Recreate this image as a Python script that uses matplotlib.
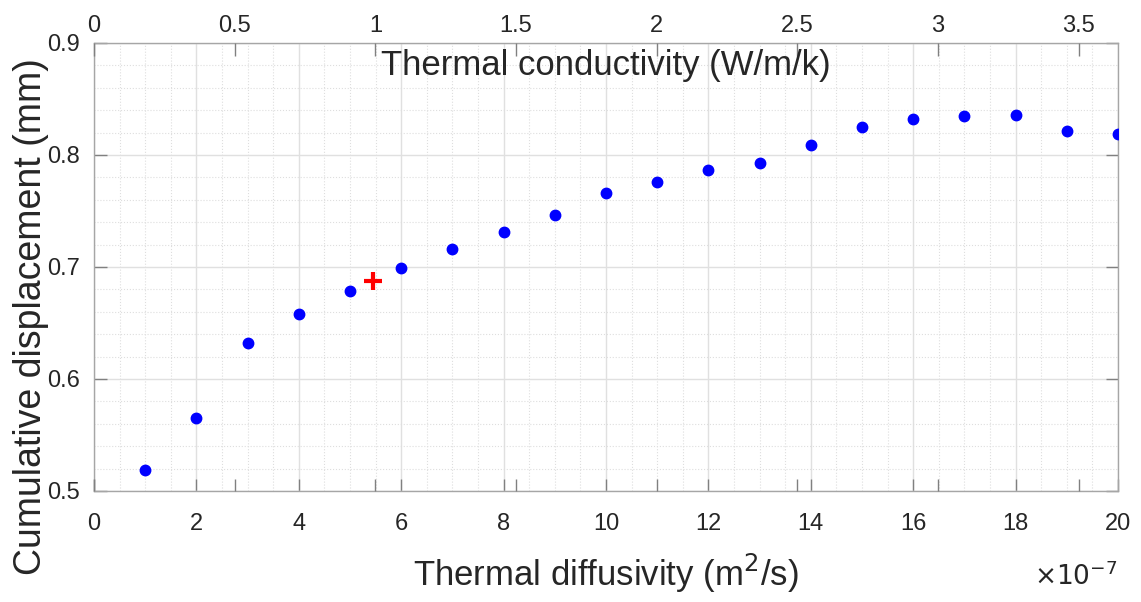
import matplotlib
matplotlib.use("Agg")
import matplotlib.pyplot as plt
from matplotlib.ticker import MultipleLocator
import numpy as np

# diffusivity in units of 1e-7 m^2/s
diffusivity = [1, 2, 3, 4, 5, 6, 7, 8, 9, 10, 11, 12, 13, 14, 15, 16, 17, 18, 19, 20]
displacement = [0.519, 0.565, 0.632, 0.658, 0.679, 0.699, 0.716, 0.731, 0.746, 0.766,
                0.776, 0.787, 0.793, 0.809, 0.825, 0.832, 0.835, 0.836, 0.821, 0.819]
ref_diffusivity = [5.45]
ref_displacement = [0.6875]

bottom_ticks = [0, 2, 4, 6, 8, 10, 12, 14, 16, 18, 20]
top_ticks = [0, 0.5, 1, 1.5, 2, 2.5, 3, 3.5]
top_max = 3.64

plt.rcParams['font.family'] = ['Liberation Sans', 'DejaVu Sans']

fig = plt.figure(figsize=(11.41, 6.02), dpi=100)
ax = fig.add_axes([0.0824, 0.1844, 0.8974, 0.7442])

ax.plot(diffusivity, displacement, 'o', color='#0000ff', markersize=7.5, zorder=3)
ax.plot(ref_diffusivity, ref_displacement, '+', color='#ff0000', markersize=13, mew=3, zorder=3)

ax.set_xlim(0, 20)
ax.set_ylim(0.5, 0.9)
ax.set_xticks(bottom_ticks)
ax.set_yticks([0.5, 0.6, 0.7, 0.8, 0.9])
ax.xaxis.set_minor_locator(MultipleLocator(0.5))
ax.yaxis.set_minor_locator(MultipleLocator(0.02))
ax.grid(True, which='major', color='#e0e0e0', linewidth=1.0)
ax.grid(True, which='minor', color='#dedede', linestyle=':', linewidth=0.8)
ax.set_axisbelow(True)

ax.tick_params(which='major', direction='in', length=9, width=1.0, color='#808080',
               top=True, right=True, labelsize=17, labelcolor='#262626')
ax.tick_params(axis='x', pad=16)
ax.tick_params(axis='y', pad=10)
ax.tick_params(which='minor', length=0)

for s in ax.spines.values():
    s.set_color('#a6a6a6')
    s.set_linewidth(1.0)

ax.set_xlabel('Thermal diffusivity (m$^2$/s)', fontsize=25, color='#262626', labelpad=12)
ax.set_ylabel('Cumulative displacement (mm)', fontsize=27, color='#262626')
ax.yaxis.set_label_coords(-0.044, 0.39)
ax.text(1.0, -0.19, r'$\times10^{-7}$', transform=ax.transAxes, fontsize=19,
        color='#262626', ha='right', va='center')

ax2 = ax.twiny()
ax2.set_xlim(0, top_max)
ax2.set_xticks(top_ticks)
ax2.set_xticklabels([f'{t:g}' for t in top_ticks])
ax2.tick_params(which='major', direction='in', length=9, width=1.0, color='#808080',
                top=True, bottom=True, labelsize=17, labelcolor='#262626', pad=4)
for s in ax2.spines.values():
    s.set_visible(False)
ax2.text(0.5, 0.95, 'Thermal conductivity (W/m/k)', transform=ax2.transAxes,
         fontsize=25, color='#262626', ha='center', va='center')

fig.savefig('out.png', dpi=100)
